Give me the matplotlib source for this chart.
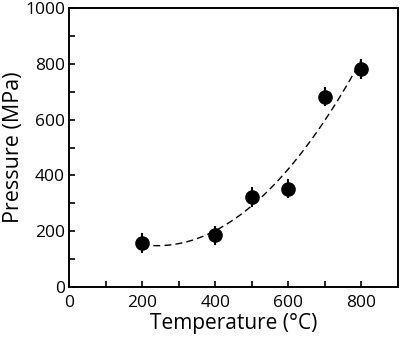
import numpy as np
import matplotlib
matplotlib.use("Agg")
from matplotlib import pyplot as plt
from matplotlib.ticker import MultipleLocator

plt.rcParams['font.family'] = ['Open Sans', 'DejaVu Sans']

temperature = [200, 400, 500, 600, 700, 800]
pressure = [157, 185, 322, 353, 683, 782]
pressure_err = [35, 35, 35, 35, 35, 35]

# quadratic fit through the points, drawn dashed
coef = np.polyfit(temperature, pressure, 2)
xfit = np.linspace(200, 800, 200)
yfit = np.polyval(coef, xfit)

fig, ax = plt.subplots(figsize=(4, 3.4), dpi=100)
fig.subplots_adjust(left=0.173, right=0.995, top=0.976, bottom=0.156)

ax.plot(xfit, yfit, '--', color='black', lw=1.0, dashes=(5, 3))
ax.errorbar(temperature, pressure, yerr=pressure_err, fmt='o', color='black',
            markersize=9.5, elinewidth=1.5, capsize=0)

ax.set_xlim(0, 900)
ax.set_ylim(0, 1000)
ax.xaxis.set_major_locator(MultipleLocator(200))
ax.xaxis.set_minor_locator(MultipleLocator(100))
ax.yaxis.set_major_locator(MultipleLocator(200))
ax.yaxis.set_minor_locator(MultipleLocator(100))
ax.tick_params(which='both', direction='in', width=1.2, labelsize=12.5)
ax.tick_params(axis='x', pad=6)
ax.tick_params(axis='y', pad=3)
ax.tick_params(which='major', length=4)
ax.tick_params(which='minor', length=4)
for s in ax.spines.values():
    s.set_linewidth(1.4)

ax.set_xlabel('Temperature (°C)', fontsize=15, labelpad=1)
ax.set_ylabel('Pressure (MPa)', fontsize=15.5, labelpad=1)

fig.savefig('out.png')
